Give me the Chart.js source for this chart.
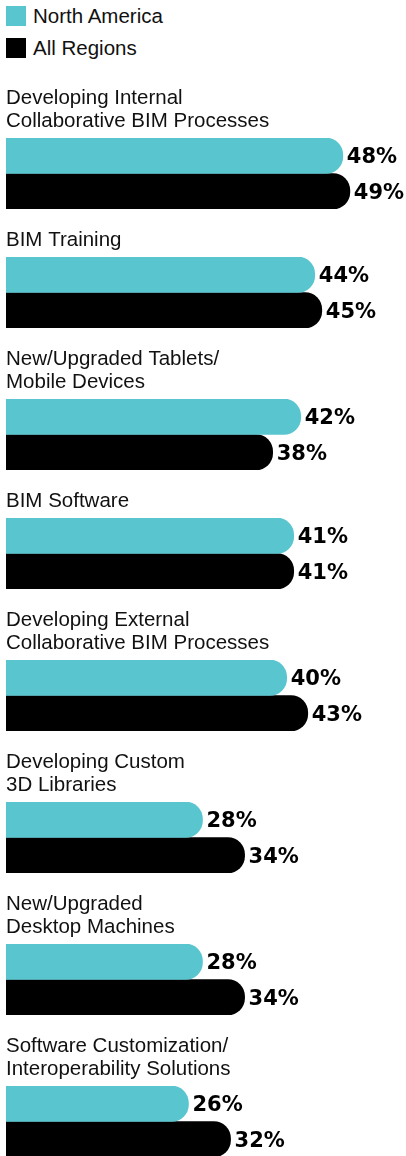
<!DOCTYPE html>
<html>
<head>
<meta charset="utf-8">
<script src="https://cdn.jsdelivr.net/npm/chart.js@4/dist/chart.umd.min.js"></script>
<style>
  body { margin: 0; background: #fff; width: 406px; overflow: hidden; }
  #legend { height: 87px; box-sizing: border-box; padding: 6px 0 0 6px; }
  .item { display: flex; align-items: center; height: 20px; margin-bottom: 12px;
          font: 20.5px "Liberation Sans", Arial, sans-serif; color: #111; }
  .swatch { width: 20px; height: 20px; margin-right: 7px; }
  .group { position: relative; width: 400px; margin-left: 6px; margin-bottom: 20px; }
</style>
</head>
<body>
<div id="legend"></div>
<div id="charts"></div>
<script>
const categories = [
  ['Developing Internal', 'Collaborative BIM Processes'],
  ['BIM Training'],
  ['New/Upgraded Tablets/', 'Mobile Devices'],
  ['BIM Software'],
  ['Developing External', 'Collaborative BIM Processes'],
  ['Developing Custom', '3D Libraries'],
  ['New/Upgraded', 'Desktop Machines'],
  ['Software Customization/', 'Interoperability Solutions'],
];
const northAmerica = [48, 44, 42, 41, 40, 28, 28, 26];
const allRegions = [49, 45, 38, 41, 43, 34, 34, 32];
const seriesNames = ['North America', 'All Regions'];
const seriesColors = ['#59c5cf', '#000000'];

const LINE_H = 23;
const BARS_H = 71;

// legend
const legend = document.getElementById('legend');
seriesNames.forEach((name, i) => {
  const row = document.createElement('div');
  row.className = 'item';
  row.innerHTML = `<div class="swatch" style="background:${seriesColors[i]}"></div>${name}`;
  legend.appendChild(row);
});

// value labels at the end of each bar
const valueLabels = {
  id: 'valueLabels',
  afterDatasetsDraw(chart) {
    const ctx = chart.ctx;
    ctx.save();
    ctx.font = 'bold 21px "DejaVu Sans"';
    ctx.fillStyle = '#000';
    ctx.textBaseline = 'middle';
    chart.data.datasets.forEach((ds, i) => {
      chart.getDatasetMeta(i).data.forEach((bar, j) => {
        ctx.fillText(ds.data[j] + '%', bar.x + 4, bar.y + 2);
      });
    });
    ctx.restore();
  },
};

const holder = document.getElementById('charts');
categories.forEach((label, idx) => {
  const wrap = document.createElement('div');
  wrap.className = 'group';
  wrap.style.height = (label.length * LINE_H + 5 + BARS_H) + 'px';
  const canvas = document.createElement('canvas');
  wrap.appendChild(canvas);
  holder.appendChild(wrap);

  new Chart(canvas.getContext('2d'), {
    type: 'bar',
    data: {
      labels: [label.join(' ')],
      datasets: [
        { label: seriesNames[0], data: [northAmerica[idx]], backgroundColor: seriesColors[0] },
        { label: seriesNames[1], data: [allRegions[idx]], backgroundColor: seriesColors[1] },
      ],
    },
    options: {
      indexAxis: 'y',
      responsive: true,
      maintainAspectRatio: false,
      animation: false,
      layout: { padding: 0 },
      datasets: {
        bar: {
          barPercentage: 1,
          categoryPercentage: 1,
          borderRadius: { topLeft: 0, bottomLeft: 0, topRight: 17, bottomRight: 17 },
          borderSkipped: false,
        },
      },
      plugins: {
        legend: { display: false },
        tooltip: { enabled: false },
        title: {
          display: true,
          text: label,
          align: 'start',
          color: '#111',
          font: { family: '"Liberation Sans", Arial, sans-serif', size: 20.5, weight: 'normal', lineHeight: LINE_H / 20.5 },
          padding: { top: 0, bottom: 5 },
        },
      },
      scales: {
        x: { display: false, min: 0, max: 57 },
        y: { display: false },
      },
    },
    plugins: [valueLabels],
  });
});
</script>
</body>
</html>
